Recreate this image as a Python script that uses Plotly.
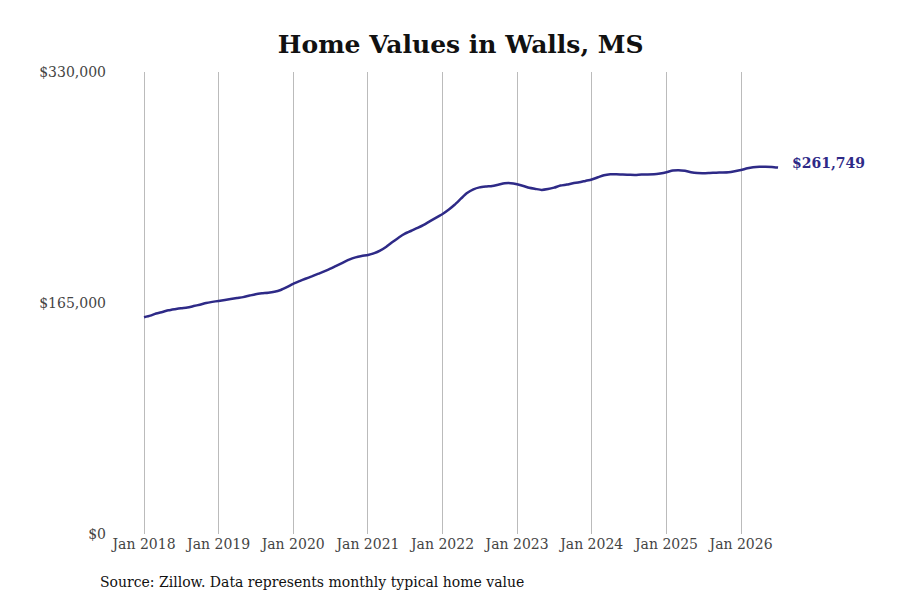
import plotly.graph_objects as go
import pandas as pd

dates = pd.date_range("2018-01-01", "2026-07-01", freq="MS")
values = [
    # 2018
    154800, 156000, 157500, 158600, 159800, 160600, 161300, 161800, 162800, 163800, 165000, 165800,
    # 2019
    166500, 167200, 167900, 168600, 169200, 170300, 171300, 171900, 172300, 173000, 174300, 176300,
    # 2020
    178700, 180600, 182300, 184000, 185800, 187600, 189500, 191700, 193900, 196000, 197600, 198600,
    # 2021
    199300, 200600, 202400, 205200, 208500, 211800, 214500, 216600, 218600, 220800, 223500, 226000,
    # 2022
    228600, 231800, 235200, 239500, 243500, 246200, 247600, 248200, 248600, 249500, 250500, 250600,
    # 2023
    249800, 248600, 247300, 246500, 245800, 246400, 247400, 248900, 249600, 250500, 251200, 252200,
    # 2024
    253200, 254800, 256200, 256900, 257000, 256700, 256600, 256500, 256800, 256800, 256900, 257500,
    # 2025
    258400, 259600, 259900, 259400, 258400, 257800, 257700, 257900, 258100, 258200, 258400, 259100,
    # 2026
    260000, 261200, 261900, 262300, 262400, 262200, 261749,
]
y_ticks = [0, 165000, 330000]
y_tick_labels = ["$0", "$165,000", "$330,000"]
x_ticks = [f"{y}-01-01" for y in range(2018, 2027)]
x_tick_labels = [f"Jan {y}" for y in range(2018, 2027)]

line_color = "#2e2a87"

fig = go.Figure()
fig.add_trace(go.Scatter(
    x=dates, y=values, mode="lines",
    line=dict(color=line_color, width=2.5, shape="spline", smoothing=0.6),
    hoverinfo="skip", showlegend=False,
))

fig.add_annotation(
    x=dates[-1], y=values[-1], text=f"<b>${values[-1]:,}</b>",
    xanchor="left", yanchor="middle", xshift=12, yshift=5, showarrow=False,
    font=dict(family="DejaVu Serif", size=14, color=line_color),
)
fig.add_annotation(
    xref="paper", yref="paper", x=-0.026, y=-0.104,
    text="Source: Zillow. Data represents monthly typical home value",
    xanchor="left", yanchor="middle", showarrow=False,
    font=dict(family="DejaVu Serif", size=14, color="#111"),
)

fig.update_layout(
    width=900, height=600,
    margin=dict(l=107, r=123, t=64, b=74),
    paper_bgcolor="white", plot_bgcolor="white",
    title=dict(text="<b>Home Values in Walls, MS</b>", x=0.503, xanchor="center",
               y=0.94, yanchor="middle", yref="container",
               font=dict(family="DejaVu Serif", size=25, color="#111")),
    xaxis=dict(
        range=["2017-08-12", "2026-08-04"],
        tickvals=x_ticks, ticktext=x_tick_labels,
        showgrid=True, gridcolor="#bbbbbb", gridwidth=1,
        zeroline=False, showline=False, ticks="",
        tickfont=dict(family="DejaVu Serif", size=14, color="#444"),
    ),
    yaxis=dict(
        range=[0, 330000],
        tickvals=y_ticks, ticktext=y_tick_labels,
        showgrid=False, zeroline=False, showline=False, ticks="",
        ticklabelstandoff=8,
        tickfont=dict(family="DejaVu Serif", size=14, color="#444"),
    ),
)

fig.write_html("out.html")
